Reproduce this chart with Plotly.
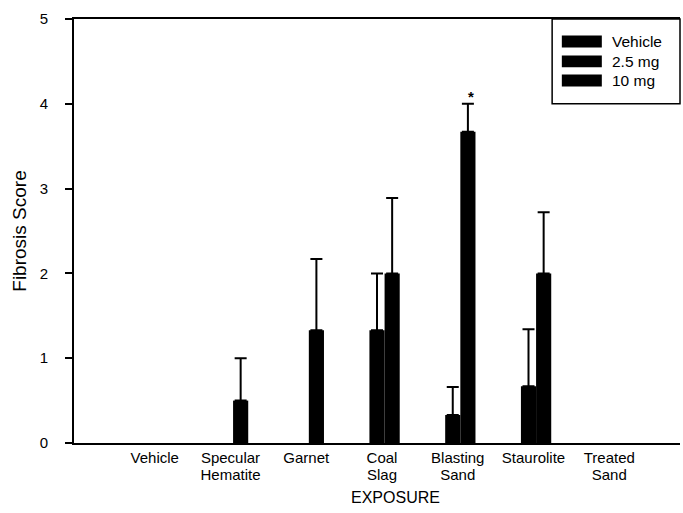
import plotly.graph_objects as go

# Exposure groups along the x axis
categories = ["Vehicle", "Specular Hematite", "Garnet", "Coal Slag",
              "Blasting Sand", "Staurolite", "Treated Sand"]
# how each group name is split over the two label rows
label_row1 = ["Vehicle", "Specular", "Garnet", "Coal", "Blasting", "Staurolite", "Treated"]
label_row2 = ["", "Hematite", "", "Slag", "Sand", "", "Sand"]

# Dose series (mean fibrosis score and upper error)
series_names = ["Vehicle", "2.5 mg", "10 mg"]
vehicle_mean = [0, 0, 0, 0, 0, 0, 0]
vehicle_err = [None, None, None, None, None, None, None]
mg25_mean = [0, 0, 0, 1.33, 0.33, 0.67, 0]
mg25_err = [None, None, None, 0.67, 0.33, 0.67, None]
mg10_mean = [0, 0.5, 1.33, 2.0, 3.67, 2.0, 0]
mg10_err = [None, 0.5, 0.84, 0.89, 0.33, 0.72, None]

y_ticks = [0, 1, 2, 3, 4, 5]

FONT = "Liberation Sans, Arial, sans-serif"

fig = go.Figure()
for name, mean, err in zip(series_names,
                           [vehicle_mean, mg25_mean, mg10_mean],
                           [vehicle_err, mg25_err, mg10_err]):
    # a score of zero leaves an empty slot in the group
    heights = [v if v else None for v in mean]
    fig.add_trace(go.Bar(
        name=name, x=categories, y=heights,
        marker=dict(color="black", line=dict(width=0)),
        error_y=dict(type="data", symmetric=False, array=err,
                     arrayminus=[0] * len(err), color="black",
                     thickness=2, width=6),
        showlegend=False,
    ))

# empty carrier so the second label row axis gets drawn
fig.add_trace(go.Scatter(x=categories, y=[None] * len(categories), xaxis="x2",
                         mode="markers", showlegend=False, hoverinfo="skip"))

# significance marker over the 10 mg Blasting Sand bar
fig.add_annotation(x=categories[4], y=mg10_mean[4] + mg10_err[4],
                   xref="x", yref="y", text="<b>*</b>", showarrow=False,
                   yanchor="bottom", xshift=18, yshift=-3,
                   font=dict(family=FONT, size=15, color="black"))

# boxed key in the upper-right corner
fig.add_shape(type="rect", xref="paper", yref="paper",
              x0=0.789, x1=1.0, y0=0.80, y1=1.0,
              line=dict(color="black", width=1.5), fillcolor="white", layer="above")
row_y = [0.947, 0.900, 0.855]
for name, ry in zip(series_names, row_y):
    fig.add_shape(type="rect", xref="paper", yref="paper",
                  x0=0.805, x1=0.871, y0=ry - 0.014, y1=ry + 0.014,
                  line=dict(width=0), fillcolor="black", layer="above")
    fig.add_annotation(x=0.884, y=ry, xref="paper", yref="paper",
                       text=name, showarrow=False, xanchor="left", yanchor="middle",
                       font=dict(family=FONT, size=15.5, color="black"))

# x axis title
fig.add_annotation(x=0.53, y=-0.128, xref="paper", yref="paper",
                   text="EXPOSURE", showarrow=False, xanchor="center", yanchor="middle",
                   font=dict(family=FONT, size=16, color="black"))

tick_font = dict(family=FONT, size=15, color="black")

fig.update_layout(
    width=683, height=513,
    margin=dict(l=74, r=3, t=19, b=70),
    paper_bgcolor="white", plot_bgcolor="white",
    barmode="group", bargap=0.4, bargroupgap=0,
    font=dict(family=FONT, size=15, color="black"),
    showlegend=False,
    xaxis=dict(
        type="category", range=[-1, 7], showgrid=False, zeroline=False,
        showline=True, linecolor="black", linewidth=2, mirror=True,
        ticks="", ticklabelshift=5, ticklabelstandoff=0, tickangle=0,
        tickmode="array", tickvals=categories, ticktext=label_row1,
        tickfont=tick_font,
    ),
    # second row of the group names
    xaxis2=dict(
        overlaying="x", matches="x", anchor="y", side="bottom", type="category",
        showgrid=False, zeroline=False, showline=False, ticks="", tickangle=0,
        tickmode="array", tickvals=categories, ticktext=label_row2,
        ticklabelshift=5, ticklabelstandoff=21,
        tickfont=tick_font,
    ),
    yaxis=dict(
        range=[0, 5], tickvals=y_ticks, showgrid=False, zeroline=False,
        showline=True, linecolor="black", linewidth=2,
        ticks="outside", ticklen=7, tickwidth=1.5, tickcolor="black",
        ticklabelstandoff=14,
        tickfont=dict(family=FONT, size=15, color="black"),
        title=dict(text="Fibrosis Score", font=dict(family=FONT, size=19, color="black"), standoff=8),
    ),
)

fig.write_html("out.html")
